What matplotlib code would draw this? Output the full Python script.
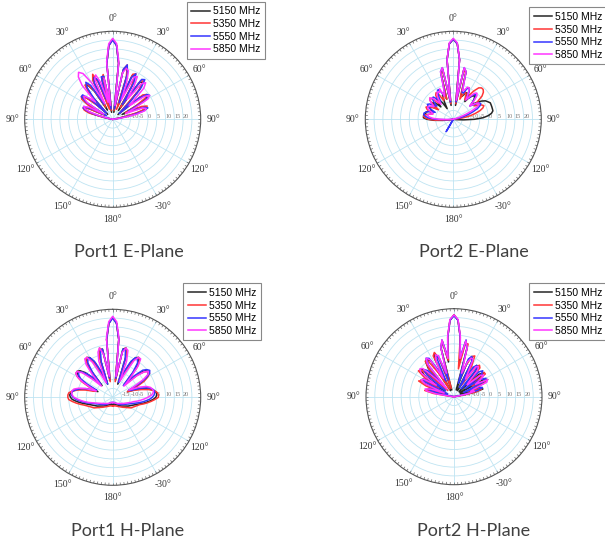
import matplotlib as mpl
mpl.use('Agg')
import matplotlib.pyplot as plt
import numpy as np

out_name = 'out.png'

freqs = ['5150 MHz', '5350 MHz', '5550 MHz', '5850 MHz']
colors = ['#262626', '#ff3535', '#3535ff', '#ff35ff']
titles = ['Port1 E-Plane', 'Port2 E-Plane', 'Port1 H-Plane', 'Port2 H-Plane']

# sample angles in degrees: coarse at the back, 3 deg steps over the front
ang = [-180, -165, -150, -135, -120] + list(range(-105, 106, 3)) + [120, 135, 150, 165, 180]

# ---- Port1 E-Plane (gain, dB) ----
p1e_5150 = [-20, -20, -20, -20, -20,
            -20, -20, -20, -20, -20, -20, -20, -20, -19, -16,
            -8, -4, -3, -4, -14, -6, -1, 1, 0, -5,
            -16, -2, 4, 4, -1, -14, 4, 7, 3, -12,
            3, 5, -16, 12, 22, 25.5, 22, 12, -16, 8,
            11, 6, -12, 7, 8, 2, -14, 6, 7, 3,
            -10, -16, 0, 3, 3, -2, -14, -4, 0, 0,
            -4, -12, -18, -20, -20, -20, -20, -20, -20, -20,
            -20,
            -20, -20, -20, -20, -20]
p1e_5350 = [-20, -20, -20, -20, -20,
            -20, -20, -20, -20, -20, -20, -20, -20, -20, -14,
            -6, -3, -2, -5, -15, -4, 1, 2, -1, -8,
            -14, 0, 5, 5, 0, -12, 5, 8, 2, -14,
            4, 6, -15, 12, 22, 25.5, 22, 12, -15, 9,
            12, 5, -14, 8, 9, 1, -12, 7, 8, 2,
            -12, -14, 2, 4, 2, -5, -12, -2, 1, 0,
            -6, -14, -19, -20, -20, -20, -20, -20, -20, -20,
            -20,
            -20, -20, -20, -20, -20]
p1e_5550 = [-20, -20, -20, -20, -20,
            -20, -20, -20, -20, -20, -20, -20, -20, -20, -17,
            -10, -5, -2, -2, -8, -16, -2, 2, 2, -3,
            -15, -4, 3, 6, 3, -10, 3, 6, 4, -8,
            5, 5, -14, 12, 22, 25, 22, 12, -14, 9,
            12, 7, -10, 6, 9, 4, -10, 8, 9, 4,
            -6, -15, -1, 4, 5, 1, -10, -8, -1, 1,
            -2, -9, -16, -20, -20, -20, -20, -20, -20, -20,
            -20,
            -20, -20, -20, -20, -20]
p1e_5850 = [-20, -20, -20, -20, -20,
            -20, -20, -20, -20, -20, -20, -20, -20, -20, -18,
            -12, -6, -3, -2, -5, -14, -3, 0, 1, -2,
            -6, 6, 11, 13, 11, 4, -10, 5, 7, 2,
            -10, 4, -12, 13, 23, 26, 23, 13, -12, 7,
            10, 9, 2, -8, 7, 8, 2, -6, 6, 8,
            5, -4, -8, 2, 5, 3, -6, -12, -2, 0,
            -1, -6, -14, -19, -20, -20, -20, -20, -20, -20,
            -20,
            -20, -20, -20, -20, -20]

# ---- Port2 E-Plane ----
p2e_5150 = [-20, -20, -20, -20, -20,
            -20, -20, -18, -14, -9, -5, -3, -3, -3, -4,
            -4, -5, -7, -6, -5, -6, -9, -7, -5, -6,
            -10, -7, -5, -6, -9, -13, -9, -5, -4, -8,
            7, 9, -12, 14, 23, 25.5, 23, 14, -12, 9,
            8, -6, -6, -4, -3, -5, -8, -5, -3, -2,
            -3, -5, -7, -4, -1, 1, 2, 3, 3, 3,
            3, 3, 2, 0, -3, -8, -14, -18, -20, -20,
            -20,
            -20, -20, -20, -20, -20]
p2e_5350 = [-20, -20, -20, -20, -20,
            -20, -20, -20, -16, -10, -6, -4, -3, -4, -6,
            -8, -6, -4, -3, -4, -7, -10, -6, -3, -2,
            -4, -8, -6, -3, -2, -4, -8, -6, -5, -8,
            6, 9, -11, 14, 23, 25.5, 23, 14, -11, 9,
            7, -8, -5, -3, -4, -7, -4, 0, 3, 4,
            4, 3, 1, -3, -6, -4, -2, -1, -2, -4,
            -7, -10, -14, -18, -20, -20, -20, -20, -20, -20,
            -20,
            -20, -20, -20, -20, -20]
p2e_5550 = [-20, -20, -12, -20, -20,
            -20, -20, -20, -20, -16, -10, -6, -4, -3, -3,
            -4, -6, -9, -6, -4, -3, -4, -7, -8, -5,
            -3, -3, -5, -8, -5, -2, -1, -3, -6, -4,
            8, 10, -10, 14, 23, 25.5, 23, 14, -10, 10,
            8, -4, -4, -1, 0, -2, -6, -5, -2, -1,
            -2, -5, -8, -6, -3, -2, -3, -5, -8, -11,
            -14, -17, -20, -20, -20, -20, -20, -20, -20, -20,
            -20,
            -20, -20, -20, -20, -20]
p2e_5850 = [-20, -20, -20, -20, -20,
            -20, -20, -20, -20, -17, -12, -8, -6, -5, -6,
            -8, -7, -5, -4, -4, -5, -7, -5, -3, -2,
            -3, -6, -9, -5, -3, -2, -3, -1, -6, -3,
            8, 10, -9, 14, 23.5, 26, 23.5, 14, -9, 10,
            8, -3, -2, 0, 0, -3, -7, -4, -1, 0,
            -1, -4, -8, -5, -3, -3, -5, -9, -13, -17,
            -20, -20, -20, -20, -20, -20, -20, -20, -20, -20,
            -20,
            -20, -20, -20, -20, -20]

# ---- Port1 H-Plane ----
p1h_5150 = [-16, -16, -15, -13, -10,
            -5, -3, -1, 1, 3, 4, 4.5, 4, 3, 1,
            -2, -6, -11, -8, -2, 2, 4, 5, 4, 1,
            -5, -11, 0, 5, 7, 6, 2, -6, -12, 3,
            8, 8, -10, 13, 22, 25.5, 22, 13, -10, 8,
            9, 4, -12, -6, 2, 6, 7, 5, 0, -10,
            -5, 1, 4, 5, 4, 2, -2, -8, -11, -5,
            -1, 2, 4, 5, 5, 4.5, 3, 1, -1, -3,
            -5,
            -10, -13, -15, -16, -16]
p1h_5350 = [-15, -15, -14, -12, -8,
            -3, -1, 1, 3, 5, 5.5, 5.5, 5, 3, 0,
            -4, -9, -10, -5, 0, 3, 5, 5, 3, -1,
            -8, -9, 1, 6, 7, 5, 0, -9, -10, 4,
            9, 7, -11, 13, 22, 25.5, 22, 13, -11, 7,
            9, 5, -10, -8, 0, 5, 7, 6, 2, -6,
            -9, -1, 3, 5, 5, 3, 0, -5, -11, -7,
            -3, 1, 4, 5.5, 6, 6, 4, 2, 0, -2,
            -4,
            -8, -12, -14, -15, -15]
p1h_5550 = [-17, -17, -16, -14, -12,
            -7, -5, -3, -1, 1, 2.5, 3.5, 3.5, 3, 1,
            -1, -4, -9, -10, -4, 1, 3, 4, 3, 0,
            -4, -10, -2, 4, 6, 6, 3, -4, -12, 1,
            7, 8, -9, 13, 22, 25, 22, 13, -9, 8,
            8, 3, -11, -4, 3, 6, 6, 4, -2, -11,
            -3, 3, 5, 6, 5, 2, -3, -10, -9, -3,
            1, 3, 4, 4, 3.5, 2.5, 1, -1, -3, -5,
            -7,
            -12, -14, -16, -17, -17]
p1h_5850 = [-17, -17, -16, -15, -13,
            -8, -6, -4, -2, 0, 2, 3, 3.5, 3.5, 2.5,
            0, -4, -10, -6, -1, 3, 5, 5, 2, -5,
            -11, -3, 4, 7, 7, 3, -6, -11, 2, 7,
            9, 5, -8, 14, 23, 26, 23, 14, -8, 6,
            9, 8, 2, -10, -5, 4, 7, 7, 3, -5,
            -11, -2, 3, 5, 4, 0, -6, -10, -4, 0,
            2, 3, 3.5, 3, 2, 0, -2, -4, -6, -8,
            -9,
            -13, -15, -16, -17, -17]

# ---- Port2 H-Plane ----
p2h_5150 = [-20, -20, -20, -20, -20,
            -20, -20, -20, -20, -20, -20, -20, -20, -17, -7,
            -4, -6, -16, -2, 1, 0, -14, 1, 4.5, 3,
            -14, 2, 5.5, 6.5, 4, -16, 4, 7, 3, -16,
            9, 12.5, 0, 14, 23.5, 26.5, 23.5, 14, 0, 12,
            9, -16, 2, 5, 3, -16, -2, 2, 1, -6,
            -16, -1, 1.5, -3, -16, -1, 1.5, -4, -16, -5,
            -3, -8, -18, -20, -20, -20, -20, -20, -20, -20,
            -20,
            -20, -20, -20, -20, -20]
p2h_5350 = [-20, -20, -20, -20, -20,
            -20, -20, -20, -20, -20, -20, -20, -18, -8, -3,
            -5, -15, -3, 2, 0, -10, 0, 5, 4, -6,
            -15, 1, 6, 5, -4, -15, 6, 7.5, 2, -15,
            8, 12, 1, 14, 23.5, 26.5, 23.5, 14, -4, 11,
            11, -10, -1, 5, 6, 0, -12, 1, 3, 2,
            -8, -6, 2, 2, -8, -8, 0, -1, -12, -5,
            -4, -8, -16, -20, -20, -20, -20, -20, -20, -20,
            -20,
            -20, -20, -20, -20, -20]
p2h_5550 = [-20, -20, -20, -20, -20,
            -20, -20, -20, -20, -20, -20, -20, -20, -20, -12,
            -6, -5, -9, -16, -1, 0, -5, -14, 0, 3,
            1, -12, 3, 7, 6, -4, -10, 4, 5, -10,
            8, 13, 3, 14, 23.5, 26, 23.5, 14, 3, 13,
            8, -12, 3, 5, 2, -14, 0, 2, 0, -14,
            0, 2, 0, -12, -2, 1, -1, -14, -5, -3,
            -6, -14, -20, -20, -20, -20, -20, -20, -20, -20,
            -20,
            -20, -20, -20, -20, -20]
p2h_5850 = [-20, -20, -20, -20, -20,
            -20, -20, -20, -20, -20, -20, -20, -19, -10, -4,
            -3, -6, -14, -2, 1, 0, -8, 3, 5, 4,
            -6, -14, 4, 7, 5, -8, 2, 6, 5, -6,
            9, 13, 2, 14.5, 24, 26.5, 24, 14.5, 2, 12.5,
            9, -6, 1, 4, 4, -4, -8, 1, 2, 0,
            -8, -10, -1, 1, -2, -6, 1.3, 0.5, -8, -10,
            -8, -12, -18, -20, -20, -20, -20, -20, -20, -20,
            -20,
            -20, -20, -20, -20, -20]

panels = [
    [p1e_5150, p1e_5350, p1e_5550, p1e_5850],
    [p2e_5150, p2e_5350, p2e_5550, p2e_5850],
    [p1h_5150, p1h_5350, p1h_5550, p1h_5850],
    [p2h_5150, p2h_5350, p2h_5550, p2h_5850],
]

theta_ticks = [0, 30, 60, 90, 120, 150, 180, 210, 240, 270, 300, 330]
theta_labels = ['0°', '30°', '60°', '90°', '120°', '-30°',
                '180°', '150°', '120°', '90°', '60°', '30°']
r_ticks = [-15, -10, -5, 0, 5, 10, 15, 20, 25]
r_labels = ['-15', '-10', '-5', '0', '5', '10', '15', '20', '']

W, H = 605, 546
fig = plt.figure(figsize=(W / 100, H / 100), dpi=100)

# centre (px) of each polar plot, radius 88 px
centres = [(112.7, 119.3), (453.3, 119.3), (112.7, 397.3), (454.0, 396.7)]
rad = 88
legend_pos = [(186.7, 1.7), (529.0, 7.3), (183.3, 283.3), (529.3, 283.3)]
title_pos = [(129, 252), (474, 252), (128, 531), (474, 531)]

th = np.deg2rad(ang)
tick_th = np.deg2rad(np.arange(0, 360, 2.5))
for k in range(4):
    cx, cy = centres[k]
    ax = fig.add_axes([(cx - rad) / W, 1 - (cy + rad) / H, 2 * rad / W, 2 * rad / H],
                      projection='polar')
    ax.set_theta_zero_location('N')
    ax.set_theta_direction(-1)
    lines = []
    for j in range(4):
        ln, = ax.plot(th, panels[k][j], color=colors[j], lw=1.1, label=freqs[j])
        lines.append(ln)
    ax.set_rlim(-20, 30)
    ax.set_thetagrids(theta_ticks, theta_labels, fontsize=7,
                      family='Liberation Serif', color='#333333')
    ax.set_rgrids(r_ticks, r_labels, angle=90, fontsize=4.5,
                  family='Liberation Serif', color='#777777')
    ax.tick_params(axis='x', pad=2, length=0)
    ax.grid(True, color='#bfe4f2', lw=0.6)
    ax.spines['polar'].set_color('#555555')
    ax.spines['polar'].set_linewidth(0.8)
    # small ticks round the rim
    ax.vlines(tick_th, 28.6, 30, color='#666666', lw=0.5)

    lx, ly = legend_pos[k]
    leg = ax.legend(handles=lines, loc='upper left',
                    bbox_to_anchor=(lx / W, 1 - ly / H), bbox_transform=fig.transFigure,
                    fontsize=7.5, fancybox=False, framealpha=1, edgecolor='#888888',
                    borderpad=0.45, labelspacing=0.25, handlelength=1.75,
                    handletextpad=0.3, borderaxespad=0)
    leg.get_frame().set_linewidth(0.8)
    for t in leg.get_texts():
        t.set_family('Liberation Sans')

    tx, ty = title_pos[k]
    fig.text(tx / W, 1 - ty / H, titles[k], ha='center', va='center',
             fontsize=13, family='Lato', color='#404040')

plt.savefig(out_name, dpi=100)
plt.close()
